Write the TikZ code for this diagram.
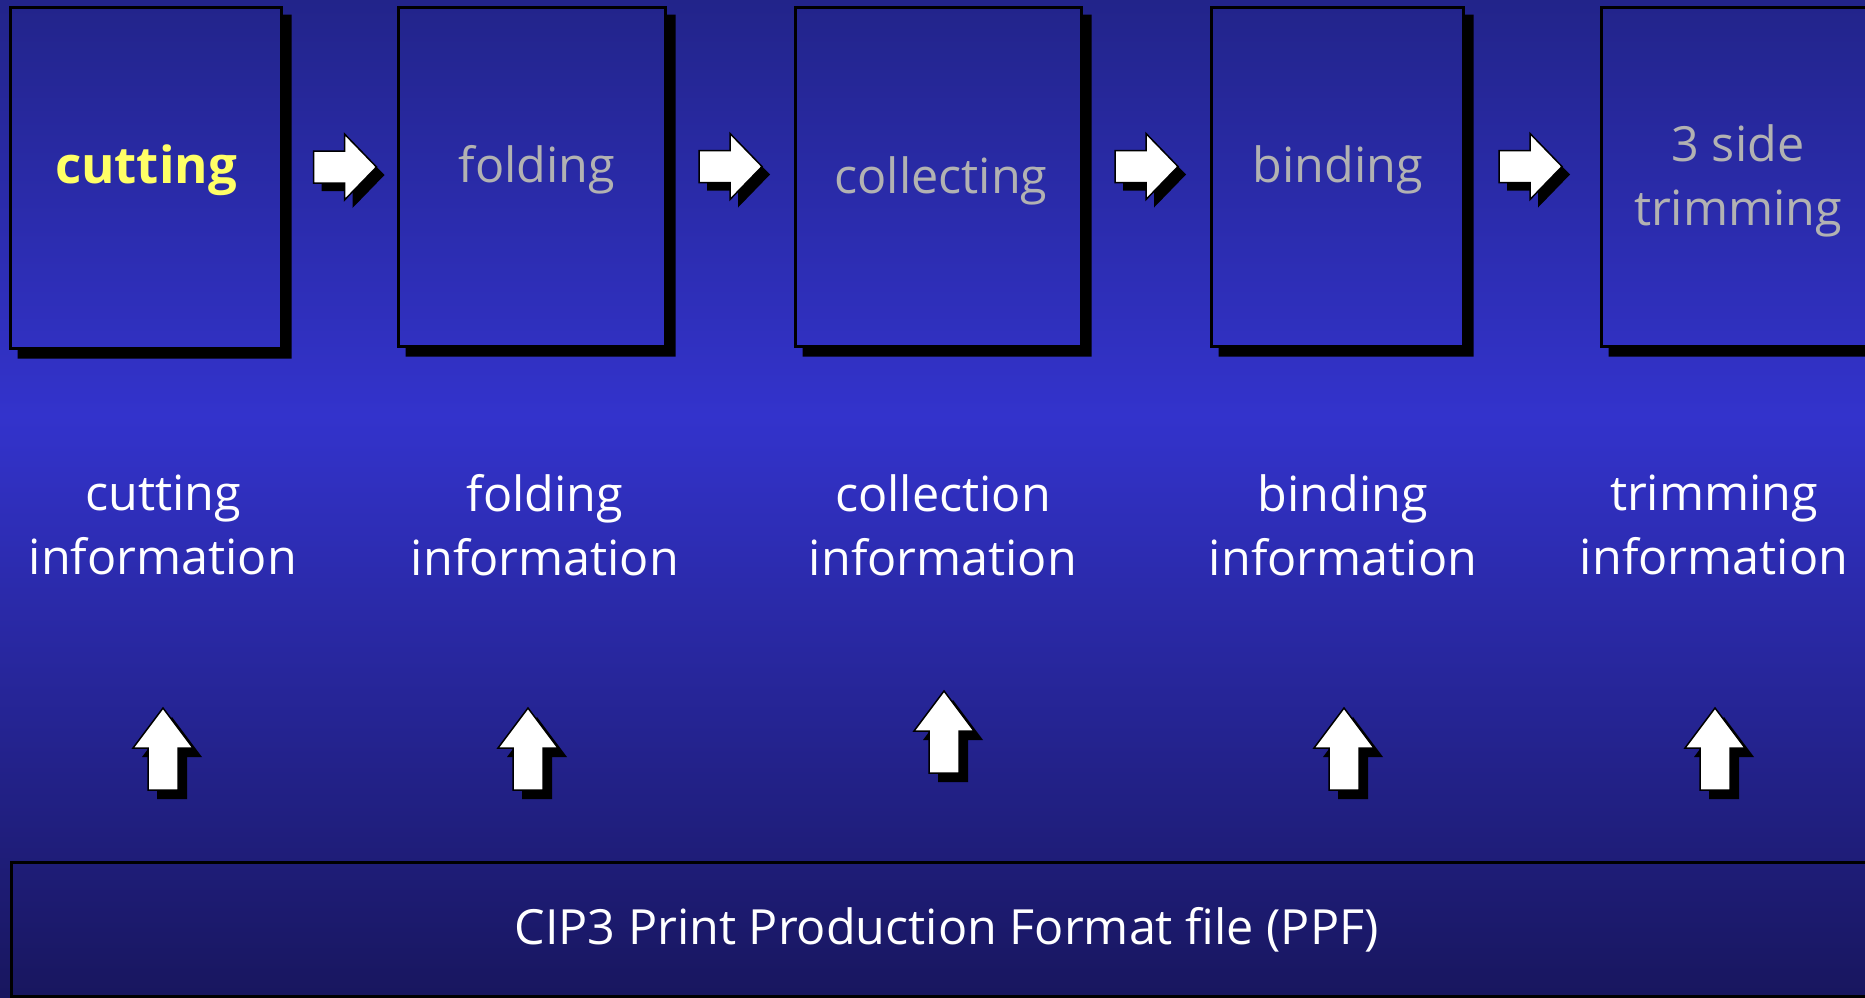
\documentclass[tikz,border=0pt]{standalone}
\usepackage{fontspec}
\setmainfont{Open Sans}
\usetikzlibrary{calc}

\definecolor{bgtop}{RGB}{34,36,138}
\definecolor{bgmid}{RGB}{51,51,204}
\definecolor{bgbot}{RGB}{24,22,94}
\definecolor{hilite}{RGB}{255,255,102}
\definecolor{dimtext}{RGB}{178,178,178}

\newcommand{\stageshadow}[1]{%
  \fill[black] ($(#1.north east)+(0,9)$) -- ++(9,0) -- ($(#1.south east)+(9,9)$)
    -- ($(#1.south west)+(9,9)$) -- ++(0,-9) -- (#1.south east) -- cycle;}

\begin{document}
\begin{tikzpicture}[
        x=1pt, y=-1pt,
        stage/.style={draw=black, line width=3pt, inner sep=0pt},
        stagetext/.style={font=\fontsize{48.5}{64}\selectfont, align=center, text=dimtext},
        infotext/.style={font=\fontsize{48.5}{64}\selectfont, align=center, text=white},
        rarrow/.pic={
            \fill[black, shift={(8,8)}] (-31,-16) -- (0,-16) -- (0,-33) -- (32,0) -- (0,33) -- (0,16) -- (-31,16) -- cycle;
            \filldraw[fill=white, draw=black, line width=1.5pt] (-31,-16) -- (0,-16) -- (0,-33) -- (32,0) -- (0,33) -- (0,16) -- (-31,16) -- cycle;
        },
        uarrow/.pic={
            \fill[black, shift={(9,9)}] (0,0) -- (30,40) -- (15,40) -- (15,82) -- (-15,82) -- (-15,40) -- (-30,40) -- cycle;
            \filldraw[fill=white, draw=black, line width=1.5pt] (0,0) -- (30,40) -- (15,40) -- (15,82) -- (-15,82) -- (-15,40) -- (-30,40) -- cycle;
        }
    ]

    \useasboundingbox (0,0) rectangle (1865,997);
    \clip (0,0) rectangle (1865,997);

    % Background
    \shade[top color=bgtop, bottom color=bgmid] (0,0) rectangle (1865,416);
    \shade[top color=bgmid, bottom color=bgbot] (0,416) rectangle (1865,998);

    % Stages
    \node[stage, minimum width=271, minimum height=341] (cut) at (145.5,177.5) {};
    \node[stage, minimum width=267, minimum height=339] (fold) at (531.5,176.5) {};
    \node[stage, minimum width=286, minimum height=339] (collect) at (938,176.5) {};
    \node[stage, minimum width=252, minimum height=339] (bind) at (1337,176.5) {};
    \node[stage, minimum width=272, minimum height=339] (trim) at (1737,176.5) {};

    \stageshadow{cut}
    \stageshadow{fold}
    \stageshadow{collect}
    \stageshadow{bind}
    \stageshadow{trim}

    \node[stagetext, text=hilite, font=\fontsize{51}{64}\selectfont\bfseries] (cutlabel) at (146,170) {cutting};
    \node[stagetext] (foldlabel) at (537,170) {folding};
    \node[stagetext] (collectlabel) at (941,181) {collecting};
    \node[stagetext] (bindlabel) at (1338,170) {binding};
    \node[stagetext] (trimlabel) at (1738,181) {3 side\\trimming};

    % Flow arrows
    \pic at ($(cut.east)!0.5!(fold.west)+(5,-10)$) {rarrow};
    \pic at ($(fold.east)!0.5!(collect.west)+(0,-10)$) {rarrow};
    \pic at ($(collect.east)!0.5!(bind.west)+(0,-10)$) {rarrow};
    \pic at ($(bind.east)!0.5!(trim.west)+(-2,-10)$) {rarrow};

    % Information
    \node[infotext] (cutinfo) at (163,525) {cutting\\information};
    \node[infotext] (foldinfo) at (545,525) {folding\\information};
    \node[infotext] (collectinfo) at (943,525) {collection\\information};
    \node[infotext] (bindinfo) at (1343,525) {binding\\information};
    \node[infotext] (triminfo) at (1714,525) {trimming\\information};

    % PPF file
    \node[stage, minimum width=1870, minimum height=134, anchor=north west,
          text=white, font=\fontsize{48.5}{64}\selectfont] (ppf) at (10,861) {CIP3 Print Production Format file (PPF)};

    \pic at (163,708) {uarrow};
    \pic at (528,708) {uarrow};
    \pic at (944,691) {uarrow};
    \pic at (1344,708) {uarrow};
    \pic at (1715,708) {uarrow};

\end{tikzpicture}
\end{document}
